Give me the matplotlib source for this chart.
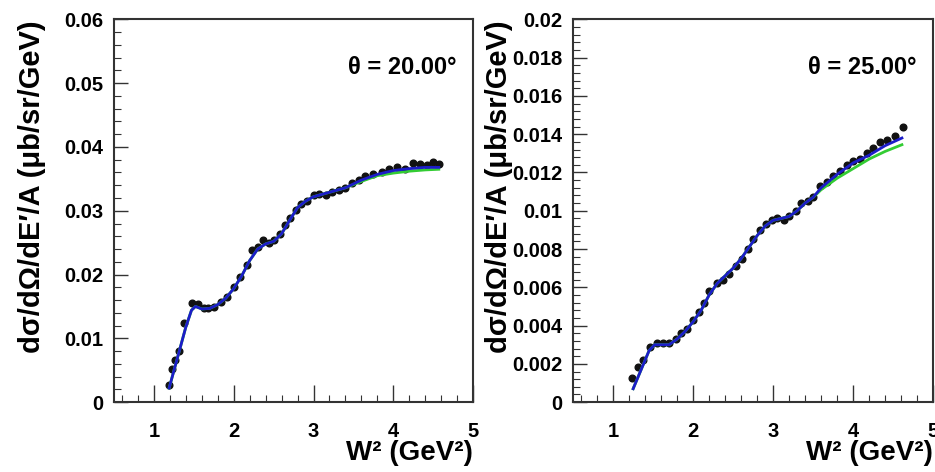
import numpy as np
import matplotlib
matplotlib.use("Agg")
from matplotlib import pyplot as plt
from matplotlib.ticker import FixedLocator, MultipleLocator

plt.rcParams['font.family'] = ['Liberation Sans', 'DejaVu Sans']
plt.rcParams['font.weight'] = 'bold'

# theta = 20 deg : data points
w2_20 = [1.19, 1.23, 1.26, 1.32, 1.38, 1.475, 1.55, 1.625, 1.68, 1.75, 1.84, 1.92,
         2.0, 2.08, 2.16, 2.23, 2.3, 2.37, 2.44, 2.5, 2.58, 2.64, 2.71, 2.78, 2.84,
         2.92, 3.0, 3.07, 3.15, 3.23, 3.32, 3.4, 3.48, 3.57, 3.65, 3.75, 3.86, 3.94,
         4.05, 4.15, 4.25, 4.34, 4.42, 4.5, 4.57]
xs_20 = [0.0027, 0.0052, 0.0066, 0.0080, 0.0124, 0.0156, 0.0154, 0.0147, 0.0148, 0.0149,
         0.0157, 0.0165, 0.0180, 0.0196, 0.0215, 0.0238, 0.0243, 0.0254, 0.0249, 0.0254,
         0.0264, 0.0277, 0.0288, 0.0301, 0.0311, 0.0316, 0.0324, 0.0327, 0.0324, 0.0329,
         0.0332, 0.0335, 0.0343, 0.0348, 0.0354, 0.0357, 0.0361, 0.0365, 0.0369, 0.0366,
         0.0375, 0.0373, 0.0371, 0.0376, 0.0374]

# theta = 20 deg : model curves
mw2_20 = [1.19, 1.3, 1.4, 1.47, 1.52, 1.6, 1.7, 1.8, 1.9, 2.0, 2.1, 2.2, 2.3, 2.4, 2.5,
          2.6, 2.7, 2.8, 2.9, 3.0, 3.2, 3.4, 3.6, 3.8, 4.0, 4.2, 4.4, 4.57]
blue_20 = [0.0022, 0.0072, 0.0118, 0.0144, 0.0150, 0.0146, 0.0147, 0.0153, 0.0163, 0.0178,
           0.0198, 0.0222, 0.0240, 0.0248, 0.0252, 0.0264, 0.0285, 0.0305, 0.0315, 0.0322,
           0.0329, 0.0336, 0.0348, 0.0357, 0.0363, 0.0366, 0.0368, 0.0368]
green_20 = [0.0022, 0.0072, 0.0118, 0.0144, 0.0150, 0.0146, 0.0147, 0.0153, 0.0163, 0.0178,
            0.0198, 0.0222, 0.0240, 0.0248, 0.0252, 0.0264, 0.0285, 0.0305, 0.0315, 0.0322,
            0.0329, 0.0336, 0.0346, 0.0355, 0.0359, 0.0362, 0.0364, 0.0365]

# theta = 25 deg : data points
w2_25 = [1.23, 1.31, 1.37, 1.46, 1.55, 1.62, 1.70, 1.78, 1.85, 1.92, 2.0, 2.07, 2.14,
         2.20, 2.30, 2.37, 2.45, 2.54, 2.61, 2.68, 2.75, 2.83, 2.91, 2.98, 3.05, 3.13,
         3.20, 3.28, 3.35, 3.43, 3.50, 3.59, 3.67, 3.75, 3.84, 3.92, 4.0, 4.09, 4.17,
         4.25, 4.34, 4.42, 4.52, 4.62]
xs_25 = [0.00124, 0.00184, 0.0022, 0.0029, 0.0031, 0.0031, 0.0031, 0.0033, 0.0036, 0.0038,
         0.0043, 0.0047, 0.0052, 0.0058, 0.0062, 0.0064, 0.0067, 0.0071, 0.0075, 0.0080,
         0.0085, 0.0090, 0.0093, 0.0095, 0.0096, 0.0095, 0.0097, 0.0100, 0.0104, 0.0105,
         0.0107, 0.0113, 0.0115, 0.0118, 0.0121, 0.0124, 0.0126, 0.0127, 0.0130, 0.0133,
         0.0136, 0.0137, 0.0139, 0.0144]

# theta = 25 deg : model curves
mw2_25 = [1.25, 1.35, 1.45, 1.52, 1.6, 1.7, 1.8, 1.9, 2.0, 2.1, 2.2, 2.3, 2.4, 2.5, 2.6,
          2.7, 2.8, 2.9, 3.0, 3.1, 3.2, 3.3, 3.4, 3.5, 3.6, 3.8, 4.0, 4.2, 4.4, 4.61]
blue_25 = [0.0007, 0.0017, 0.0027, 0.0030, 0.0030, 0.0030, 0.0033, 0.0037, 0.0042, 0.0048,
           0.0056, 0.0062, 0.0066, 0.0070, 0.0075, 0.0081, 0.0087, 0.0092, 0.0095, 0.0096,
           0.0097, 0.0100, 0.0104, 0.0107, 0.0112, 0.0119, 0.0125, 0.0129, 0.0134, 0.0138]
green_25 = [0.0007, 0.0017, 0.0027, 0.0030, 0.0030, 0.0030, 0.0033, 0.0037, 0.0042, 0.0048,
            0.0056, 0.0062, 0.0066, 0.0070, 0.0075, 0.0081, 0.0087, 0.0092, 0.0095, 0.0096,
            0.0097, 0.0100, 0.0104, 0.0107, 0.0111, 0.0117, 0.0122, 0.0127, 0.0131, 0.01345]

yt_20 = [0, 0.01, 0.02, 0.03, 0.04, 0.05, 0.06]
ytl_20 = ['0', '0.01', '0.02', '0.03', '0.04', '0.05', '0.06']
yt_25 = [0, 0.002, 0.004, 0.006, 0.008, 0.01, 0.012, 0.014, 0.016, 0.018, 0.02]
ytl_25 = ['0', '0.002', '0.004', '0.006', '0.008', '0.01', '0.012', '0.014', '0.016', '0.018', '0.02']
xt = [1, 2, 3, 4, 5]
xtl = ['1', '2', '3', '4', '5']

fig = plt.figure(figsize=(9.35, 4.72), dpi=100)
ax1 = fig.add_axes([0.122, 0.148, 0.384, 0.811])
ax2 = fig.add_axes([0.613, 0.148, 0.385, 0.811])

# axes, data x, data y, model x, blue, green, yticks, yticklabels, minor step, label, ylabel x
panels = [
    (ax1, w2_20, xs_20, mw2_20, blue_20, green_20, yt_20, ytl_20, 0.002, u'\u03b8 = 20.00\u00b0', -0.19),
    (ax2, w2_25, xs_25, mw2_25, blue_25, green_25, yt_25, ytl_25, 0.0004, u'\u03b8 = 25.00\u00b0', -0.168),
]

for ax, x, y, mx, b, g, yt, ytl, ymin, lab, ylx in panels:
    ax.plot(x, y, 'o', color='#111111', markersize=4.8, zorder=2)
    ax.plot(mx, g, '-', color='#33cc33', lw=2.0, zorder=3)
    ax.plot(mx, b, '-', color='#1c1cc8', lw=2.0, zorder=4)
    ax.set_xlim(0.5, 5)
    ax.set_ylim(yt[0], yt[-1])
    ax.xaxis.set_major_locator(FixedLocator(xt))
    ax.set_xticklabels(xtl)
    ax.xaxis.set_minor_locator(MultipleLocator(0.2))
    ax.yaxis.set_major_locator(FixedLocator(yt))
    ax.set_yticklabels(ytl)
    ax.yaxis.set_minor_locator(MultipleLocator(ymin))
    ax.tick_params(axis='x', which='major', direction='in', length=12, width=1,
                   colors='#333333', labelcolor='black', labelsize=14.5, pad=14)
    ax.tick_params(axis='x', which='minor', direction='in', length=5, width=0.8, colors='#333333')
    ax.tick_params(axis='y', which='major', direction='in', length=10, width=1,
                   colors='#333333', labelcolor='black', labelsize=14.5, pad=8)
    ax.tick_params(axis='y', which='minor', direction='in', length=5, width=0.8, colors='#333333')
    for t in ax.get_xticklabels() + ax.get_yticklabels():
        t.set_fontweight('bold')
    for sp in ax.spines.values():
        sp.set_linewidth(1.5)
        sp.set_color('#333333')
    ax.text(0.955, 0.875, lab, transform=ax.transAxes, ha='right', va='center',
            fontsize=17, fontweight='bold')
    ax.set_ylabel(u'd\u03c3/d\u03a9/dE\u2032/A (\u03bcb/sr/GeV)', fontsize=21,
                  fontweight='bold')
    ax.yaxis.set_label_coords(ylx, 0.564)
    ax.set_xlabel(u'W\u00b2 (GeV\u00b2)', fontsize=20, fontweight='bold')
    ax.xaxis.set_label_coords(1.0, -0.1)
    ax.xaxis.label.set_horizontalalignment('right')

fig.savefig('out.png', dpi=100, facecolor='white')
